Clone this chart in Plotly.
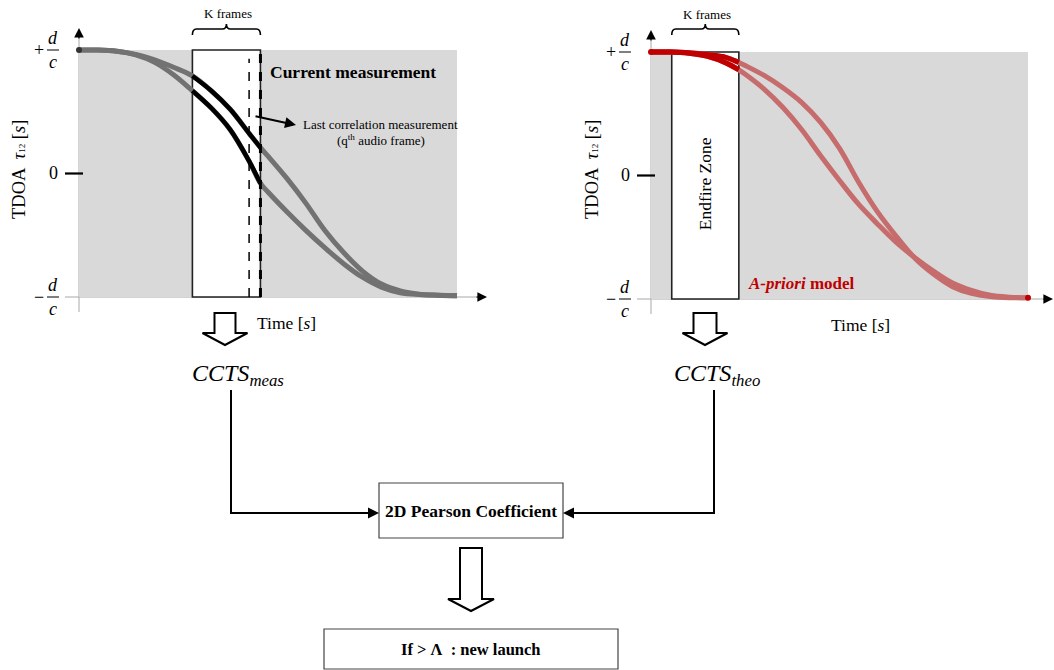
import plotly.graph_objects as go

# Measured TDOA trajectories (time in frame units, TDOA in units of d/c)
time_meas = [0, 5, 10, 15, 20, 25, 30, 35, 40, 45, 48, 50, 55, 60, 65, 70, 75, 80, 85, 90, 95, 100]
tdoa_meas_upper = [1.0, 1.0, 0.99, 0.965, 0.92, 0.86, 0.79, 0.67, 0.52, 0.325, 0.21, 0.14,
                   -0.04, -0.24, -0.46, -0.64, -0.79, -0.895, -0.95, -0.977, -0.985, -0.99]
tdoa_meas_lower = [1.0, 1.0, 0.99, 0.96, 0.90, 0.80, 0.67, 0.53, 0.355, 0.10, -0.08, -0.15,
                   -0.31, -0.46, -0.60, -0.73, -0.84, -0.92, -0.965, -0.98, -0.985, -0.99]

# A-priori model trajectories
time_model = [0, 5, 10, 15, 20, 23.3, 25, 30, 35, 40, 45, 50, 55, 60, 65, 70, 75, 80, 85, 90, 95, 100]
tdoa_model_outer = [1.0, 1.0, 0.995, 0.98, 0.955, 0.915, 0.89, 0.81, 0.71, 0.59, 0.43, 0.22,
                    -0.05, -0.29, -0.49, -0.67, -0.80, -0.90, -0.955, -0.98, -0.99, -0.99]
tdoa_model_inner = [1.0, 1.0, 0.99, 0.965, 0.91, 0.855, 0.82, 0.70, 0.55, 0.37, 0.16, -0.04,
                    -0.23, -0.39, -0.54, -0.665, -0.775, -0.87, -0.93, -0.97, -0.985, -0.99]

# Analysis windows (frame units)
K_START, K_END, Q_FRAME = 30, 48, 45
ENDFIRE_START, ENDFIRE_END = 5.5, 23.3

# TDOA tick positions
TDOA_MAX, TDOA_ZERO, TDOA_MIN = 1, 0, -1

W, H = 1054, 670
SERIF = "Liberation Serif"
GRAY_BG = "#d9d9d9"
CURVE_GRAY = "#727272"
RED = "#c00000"
RED_LIGHT = "#c66c6c"


def px(x):
    return x / W


def py(y):
    return 1 - y / H


# Panel geometry in page pixels: t=0 / t=100 columns, tau=+1 / tau=-1 rows
LEFT = dict(t0=79, t1=457, top=50, bot=297, dom_x=(55, 500))
RIGHT = dict(t0=651, t1=1028, top=52, bot=299, dom_x=(628, 1054))
DOM_Y = (18, 335)


def ranges(p):
    sx = (p["t1"] - p["t0"]) / 100.0
    xr = [(p["dom_x"][0] - p["t0"]) / sx, (p["dom_x"][1] - p["t0"]) / sx]
    sy = (p["bot"] - p["top"]) / 2.0
    mid = (p["bot"] + p["top"]) / 2.0
    yr = [(mid - DOM_Y[1]) / sy, (mid - DOM_Y[0]) / sy]
    return xr, yr


xr1, yr1 = ranges(LEFT)
xr2, yr2 = ranges(RIGHT)

fig = go.Figure()

# ---- left panel: measured trajectories ----
for ys in (tdoa_meas_upper, tdoa_meas_lower):
    fig.add_trace(go.Scatter(x=time_meas, y=ys, mode="lines", xaxis="x", yaxis="y",
                             line=dict(color=CURVE_GRAY, width=5, shape="spline"),
                             hoverinfo="skip"))
for ys in (tdoa_meas_upper, tdoa_meas_lower):
    seg = [(t, v) for t, v in zip(time_meas, ys) if K_START <= t <= K_END]
    fig.add_trace(go.Scatter(x=[s[0] for s in seg], y=[s[1] for s in seg], mode="lines",
                             xaxis="x", yaxis="y",
                             line=dict(color="black", width=4.5, shape="spline"),
                             hoverinfo="skip"))
fig.add_trace(go.Scatter(x=[time_meas[0]], y=[tdoa_meas_upper[0]], mode="markers",
                         xaxis="x", yaxis="y", marker=dict(color="#333", size=6),
                         hoverinfo="skip"))

# ---- right panel: a-priori model ----
for ys in (tdoa_model_outer, tdoa_model_inner):
    fig.add_trace(go.Scatter(x=time_model, y=ys, mode="lines", xaxis="x2", yaxis="y2",
                             line=dict(color=RED_LIGHT, width=5, shape="spline"),
                             hoverinfo="skip"))
for ys in (tdoa_model_outer, tdoa_model_inner):
    seg = [(t, v) for t, v in zip(time_model, ys) if t <= ENDFIRE_END]
    fig.add_trace(go.Scatter(x=[s[0] for s in seg], y=[s[1] for s in seg], mode="lines",
                             xaxis="x2", yaxis="y2",
                             line=dict(color=RED, width=5, shape="spline"),
                             hoverinfo="skip"))
fig.add_trace(go.Scatter(x=[time_model[0], time_model[-1]],
                         y=[tdoa_model_outer[0], tdoa_model_outer[-1]], mode="markers",
                         xaxis="x2", yaxis="y2", marker=dict(color=RED, size=6),
                         hoverinfo="skip"))

shapes = []
annotations = []


def label(x, y, text, size, xref="paper", yref="paper", color="black", **kw):
    d = dict(xref=xref, yref=yref, x=x, y=y, text=text, showarrow=False,
             xanchor="center", yanchor="middle",
             font=dict(family=SERIF, size=size, color=color))
    d.update(kw)
    annotations.append(d)


def panel_decor(xa, ya, p, box, title_x, time_label_xy, kframes_xy, axis_right):
    # shaded valid region
    shapes.append(dict(type="rect", xref=xa, yref=ya, x0=0, x1=100, y0=TDOA_MIN, y1=TDOA_MAX,
                       fillcolor=GRAY_BG, line=dict(width=0), layer="below"))
    # window box
    shapes.append(dict(type="rect", xref=xa, yref=ya, x0=box[0], x1=box[1], y0=TDOA_MIN, y1=TDOA_MAX,
                       fillcolor="white", line=dict(color="#222", width=1.6), layer="below"))
    # axes
    shapes.append(dict(type="line", xref=xa, yref="paper", x0=0, x1=0, y0=py(p["bot"] + 15),
                       y1=py(p["top"] - 18), line=dict(color="#a8a8a8", width=1), layer="below"))
    shapes.append(dict(type="line", xref="paper", yref=ya, x0=px(p["t0"] - 14), x1=px(axis_right),
                       y0=TDOA_MIN, y1=TDOA_MIN, line=dict(color="#a8a8a8", width=1), layer="below"))
    annotations.append(dict(xref=xa, yref="paper", x=0, y=py(p["top"] - 22), ax=0, ay=12,
                            showarrow=True, arrowhead=2, arrowsize=1.6, arrowwidth=1.2,
                            arrowcolor="black", text=""))
    annotations.append(dict(xref="paper", yref=ya, x=px(axis_right + 3), y=TDOA_MIN, ax=-12, ay=0,
                            showarrow=True, arrowhead=2, arrowsize=1.6, arrowwidth=1.2,
                            arrowcolor="black", text=""))
    # zero tick
    shapes.append(dict(type="line", xref="paper", yref=ya, x0=px(p["t0"] - 14), x1=px(p["t0"] + 4),
                       y0=TDOA_ZERO, y1=TDOA_ZERO, line=dict(color="black", width=2.2)))
    lx = p["t0"] - 26
    label(px(lx), TDOA_ZERO, "0", 18, yref=ya)
    for val, sign in ((TDOA_MAX, "+"), (TDOA_MIN, "\u2212")):
        label(px(lx - 14), val, sign, 18, yref=ya)
        label(px(lx), val, "<i>d</i>", 18, yref=ya, yshift=12)
        label(px(lx), val, "<i>c</i>", 18, yref=ya, yshift=-12)
        shapes.append(dict(type="line", xref="paper", yref=ya, x0=px(lx - 6), x1=px(lx + 6),
                           y0=val, y1=val, line=dict(color="black", width=1)))
    # axis titles
    label(px(title_x), py(170),
          "TDOA  <i>\u03c4</i><span style='font-size:9px'>12</span> [<i>s</i>]", 18.5,
          textangle=-90)
    label(px(time_label_xy[0]), py(time_label_xy[1]), "Time [<i>s</i>]", 17.5)
    # K frames brace over the window
    mid = (box[0] + box[1]) / 2.0
    r = (box[1] - box[0]) * 0.06
    ye, yt, ym = py(35), py(29), py(24)
    path = (f"M {box[0]},{ye} Q {box[0]},{yt} {box[0] + r},{yt} L {mid - r},{yt} "
            f"Q {mid},{yt} {mid},{ym} Q {mid},{yt} {mid + r},{yt} L {box[1] - r},{yt} "
            f"Q {box[1]},{yt} {box[1]},{ye}")
    shapes.append(dict(type="path", xref=xa, yref="paper", path=path,
                       line=dict(color="black", width=1.6)))
    label(px(kframes_xy[0]), py(kframes_xy[1]), "K frames", 13)


panel_decor("x", "y", LEFT, (K_START, K_END), 19, (286, 323), (228, 13), 484)
panel_decor("x2", "y2", RIGHT, (ENDFIRE_START, ENDFIRE_END), 592, (860, 325), (707, 15), 1051)

# q-th frame markers on the measurement window
shapes.append(dict(type="line", xref="x", yref="y", x0=Q_FRAME, x1=Q_FRAME, y0=TDOA_MIN, y1=0.93,
                   line=dict(color="black", width=1.5, dash="dash")))
shapes.append(dict(type="line", xref="x", yref="y", x0=K_END, x1=K_END, y0=TDOA_MIN, y1=TDOA_MAX,
                   line=dict(color="black", width=3, dash="dash")))

label(px(268), py(72), "<b>Current measurement</b>", 17.5, xanchor="left")
label(px(381), py(124), "Last correlation measurement", 13)
label(px(381), py(140), "(q<sup>th</sup> audio frame)", 13)
annotations.append(dict(xref="paper", yref="paper", x=px(296), y=py(125), ax=-42, ay=-9, text="",
                        showarrow=True, arrowhead=2, arrowsize=1.1, arrowwidth=2,
                        arrowcolor="black"))
label((ENDFIRE_START + ENDFIRE_END) / 2, py(184), "Endfire Zone", 17.5, xref="x2",
      textangle=-90)
label(px(746), py(284), "<b><i>A-priori</i> model</b>", 17, color=RED, xanchor="left")
label(px(238), py(375), "<i>CCTS<sub>meas</sub></i>", 24)
label(px(717), py(375), "<i>CCTS<sub>theo</sub></i>", 24)
label(px(471), py(511), "<b>2D Pearson Coefficient</b>", 17.5)
label(px(471), py(649), "<b>If &gt; \u039b  : new launch</b>", 16.5)


def block_arrow(cx, top, stem_w, stem_bot, head_w, tip):
    pts = [(cx - stem_w / 2, top), (cx - stem_w / 2, stem_bot), (cx - head_w / 2, stem_bot),
           (cx, tip), (cx + head_w / 2, stem_bot), (cx + stem_w / 2, stem_bot),
           (cx + stem_w / 2, top)]
    d = "M " + " L ".join(f"{px(x):.5f},{py(y):.5f}" for x, y in pts) + " Z"
    return dict(type="path", xref="paper", yref="paper", path=d, fillcolor="white",
                line=dict(color="black", width=2))


shapes += [
    block_arrow(225, 313, 21, 333, 45, 345),
    block_arrow(705, 313, 23, 333, 45, 345),
    block_arrow(471, 548, 22, 599, 46, 611),
    # flow boxes
    dict(type="rect", xref="paper", yref="paper", x0=px(379), x1=px(563), y0=py(538), y1=py(483),
         line=dict(color="#444", width=1.2)),
    dict(type="rect", xref="paper", yref="paper", x0=px(324), x1=px(618), y0=py(669), y1=py(629),
         line=dict(color="#444", width=1.2)),
    # connector lines
    dict(type="line", xref="paper", yref="paper", x0=px(231), x1=px(231), y0=py(390), y1=py(514),
         line=dict(color="black", width=2)),
    dict(type="line", xref="paper", yref="paper", x0=px(714), x1=px(714), y0=py(390), y1=py(514),
         line=dict(color="black", width=2)),
]
annotations += [
    dict(xref="paper", yref="paper", x=px(379), y=py(513), ax=-149, ay=0, text="",
         showarrow=True, arrowhead=2, arrowsize=1.1, arrowwidth=2, arrowcolor="black"),
    dict(xref="paper", yref="paper", x=px(563), y=py(513), ax=152, ay=0, text="",
         showarrow=True, arrowhead=2, arrowsize=1.1, arrowwidth=2, arrowcolor="black"),
]

fig.update_layout(
    width=W, height=H, margin=dict(l=0, r=0, t=0, b=0),
    paper_bgcolor="white", plot_bgcolor="rgba(0,0,0,0)", showlegend=False,
    xaxis=dict(domain=[px(LEFT["dom_x"][0]), px(LEFT["dom_x"][1])], range=xr1, visible=False,
               anchor="y"),
    yaxis=dict(domain=[py(DOM_Y[1]), py(DOM_Y[0])], range=yr1, visible=False, anchor="x"),
    xaxis2=dict(domain=[px(RIGHT["dom_x"][0]), px(RIGHT["dom_x"][1])], range=xr2, visible=False,
                anchor="y2"),
    yaxis2=dict(domain=[py(DOM_Y[1]), py(DOM_Y[0])], range=yr2, visible=False, anchor="x2"),
    shapes=shapes, annotations=annotations,
)

fig.write_html("out.html")
